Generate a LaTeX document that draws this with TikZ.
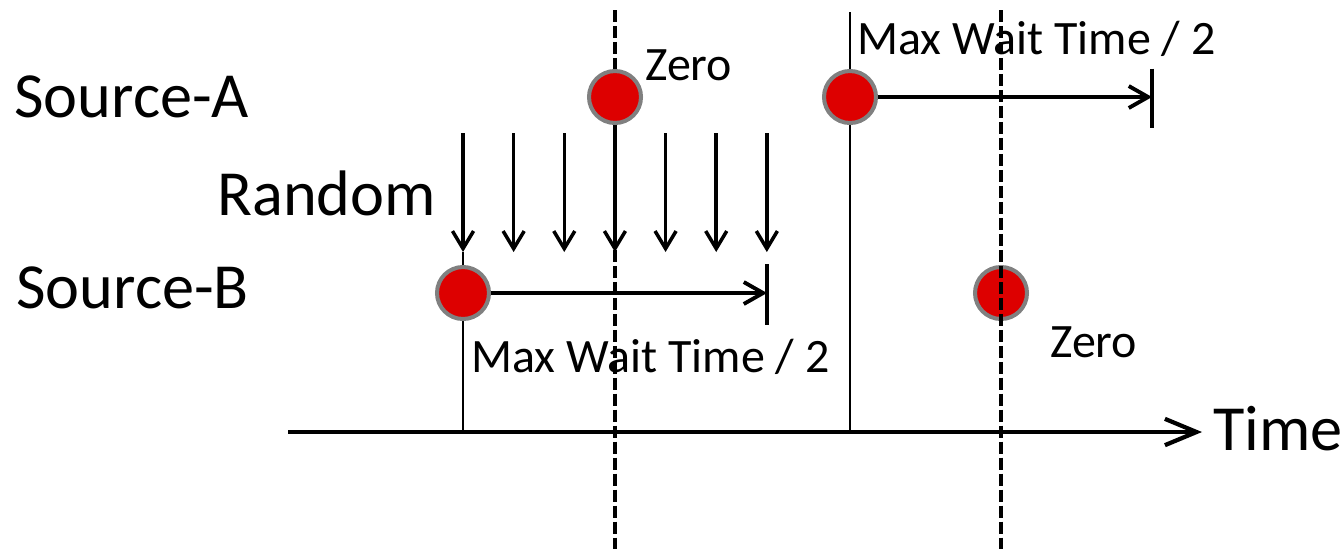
\documentclass[tikz,border=0pt]{standalone}
\usepackage{fontspec}
\setmainfont{Carlito}
\usepackage{xcolor}
\usepackage{tikz}
\usetikzlibrary{positioning}
\usetikzlibrary{arrows.meta}

\definecolor{dotred}{HTML}{DD0000}
\definecolor{dotgray}{HTML}{808080}

\tikzset{
event/.style={circle,fill=dotred,draw=dotgray,line width=2.3pt,minimum size=1.04cm,inner sep=0pt},
bigtext/.style={font=\fontsize{36.6}{40}\selectfont,inner sep=0pt,anchor=base west},
smalltext/.style={font=\fontsize{27.3}{30}\selectfont,inner sep=0pt,anchor=base west},
drop/.style={line width=2pt,-{Straight Barb[length=10pt,width=12pt,line width=2pt]}},
wait/.style={line width=2.2pt,-{Straight Barb[length=11pt,width=12.5pt,line width=2.2pt]}},
axis/.style={line width=2.6pt,-{Straight Barb[length=18pt,width=15pt,line width=2.4pt]}},
marker/.style={line width=2pt},
thinline/.style={line width=1.5pt},
zeroline/.style={line width=2.3pt,dash pattern=on 6.8pt off 2.3pt}
}

\begin{document}
\begin{tikzpicture}[x=0.02cm,y=-0.02cm,node distance=1.013cm]
\useasboundingbox (0,0) rectangle (1344,549);

%labels
\node[bigtext](la) at (14,117){Source-A};
\node[bigtext](lb) at (16,308){Source-B};
\node[bigtext](lr) at (217,215){Random};
\node[bigtext](lt) at (1213,450){Time};
\node[smalltext](za) at (645,80){Zero};
\node[smalltext](zb) at (1050,357){Zero};
\node[smalltext](ma) at (857,54){Max Wait Time / 2};
\node[smalltext](mb) at (471,372){Max Wait Time / 2};

%time axis
\coordinate(t0) at (288,432);
\coordinate(t1) at (1202,432);

%random arrows, top row
\coordinate(r1) at (463,133);
\coordinate[right of=r1](r2);
\coordinate[right of=r2](r3);
\coordinate[right of=r3](r4);
\coordinate[right of=r4](r5);
\coordinate[right of=r5](r6);
\coordinate[right of=r6](r7);

%random arrows, bottom row
\coordinate(s1) at (463,252);
\coordinate[right of=s1](s2);
\coordinate[right of=s2](s3);
\coordinate[right of=s3](s4);
\coordinate[right of=s4](s5);
\coordinate[right of=s5](s6);
\coordinate[right of=s6](s7);

%zero lines
\coordinate(z1) at (615,10);
\coordinate(z1p) at (615,549);
\coordinate(z2) at (1001,10);
\coordinate(z2p) at (1001,549);
\coordinate(h1) at (850,12);

\draw[zeroline] (z1)--(z1p);
\draw[thinline] (h1)--(h1|-t0);
\draw[thinline] (s1)--(s1|-t0);
\draw[axis] (t0)--(t1);

\draw[drop] (r1)--(s1);
\draw[drop] (r2)--(s2);
\draw[drop] (r3)--(s3);
\draw[drop] (r4)--(s4);
\draw[drop] (r5)--(s5);
\draw[drop] (r6)--(s6);
\draw[drop] (r7)--(s7);

%events
\node[event](a1) at (615,97){};
\node[event](a2) at (850,97){};
\node[event](b1) at (463,293){};
\node[event](b2) at (1001,293){};

%max wait
\coordinate(ea) at (1152,97);
\coordinate(eb) at (767,293);
\draw[wait] (a2)--(ea);
\draw[wait] (b1)--(eb);
\draw[marker] ([yshift=0.57cm]ea)--([yshift=-0.62cm]ea);
\draw[marker] ([yshift=0.58cm]eb)--([yshift=-0.64cm]eb);

\draw[zeroline] (z2)--(z2p);
\end{tikzpicture}
\end{document}
